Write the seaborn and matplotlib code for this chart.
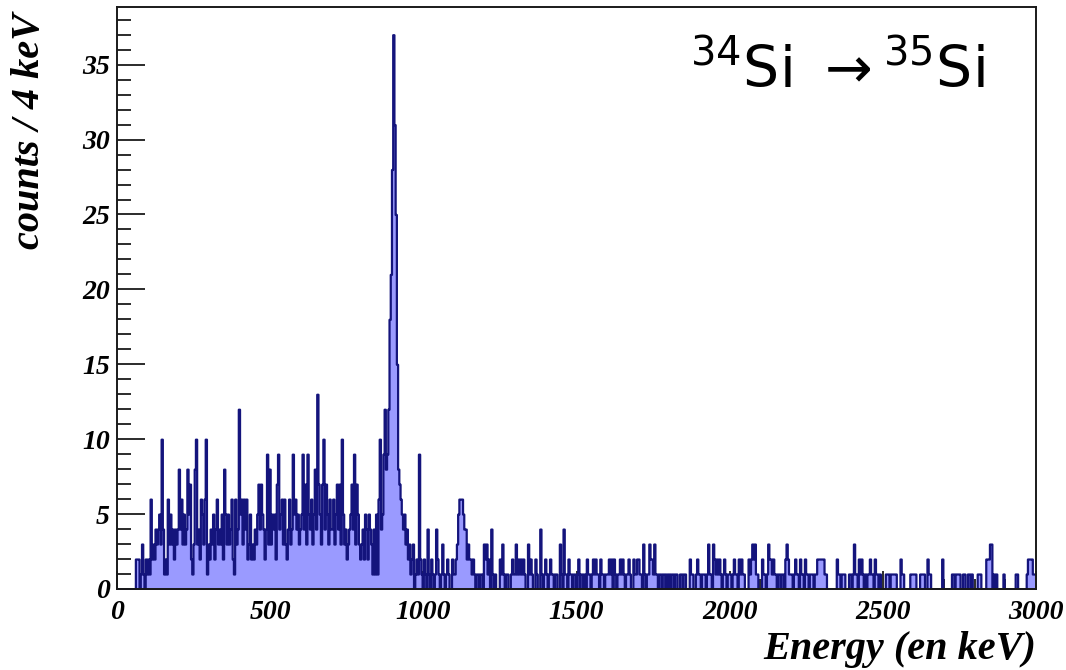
import numpy as np
import pandas as pd
import matplotlib
matplotlib.use("Agg")
import matplotlib.pyplot as plt
import seaborn as sns
from matplotlib.ticker import MultipleLocator

# Gamma-ray spectrum, counts per 4 keV bin, 0-3000 keV (25 bins per 100 keV row)
bin_width = 4
counts_0000 = [0, 0, 0, 0, 0, 0, 0, 0, 0, 0, 0, 0, 0, 0, 0, 2, 2, 2, 0, 1, 3, 1, 0, 2, 1]
counts_0100 = [2, 1, 6, 2, 3, 2, 4, 3, 4, 5, 3, 10, 4, 1, 2, 1, 6, 3, 5, 3, 4, 2, 4, 3, 4]
counts_0200 = [8, 4, 6, 3, 5, 3, 4, 8, 5, 7, 2, 1, 3, 8, 10, 3, 4, 2, 6, 5, 3, 6, 10, 1, 3]
counts_0300 = [2, 4, 3, 5, 2, 4, 6, 3, 4, 3, 5, 2, 8, 5, 3, 5, 3, 4, 6, 2, 1, 6, 3, 4, 12]
counts_0400 = [5, 6, 3, 6, 4, 6, 2, 3, 5, 2, 3, 2, 4, 3, 5, 7, 4, 7, 5, 4, 2, 4, 9, 3, 8]
counts_0500 = [3, 5, 4, 5, 2, 7, 9, 4, 5, 6, 3, 6, 3, 2, 4, 6, 3, 4, 9, 5, 6, 4, 5, 3, 4]
counts_0600 = [5, 9, 4, 7, 3, 9, 5, 4, 6, 3, 5, 8, 4, 13, 7, 5, 3, 7, 10, 4, 7, 5, 3, 6, 4]
counts_0700 = [4, 6, 3, 5, 7, 4, 7, 3, 10, 5, 3, 4, 2, 3, 4, 5, 7, 4, 9, 3, 7, 5, 3, 2, 3]
counts_0800 = [4, 2, 5, 4, 2, 5, 4, 3, 1, 4, 1, 5, 1, 6, 10, 4, 5, 9, 12, 8, 9, 12, 18, 21, 28]
counts_0900 = [37, 31, 25, 15, 8, 7, 6, 5, 4, 5, 3, 4, 2, 3, 1, 2, 3, 0, 1, 2, 1, 9, 2, 1, 0]
counts_1000 = [2, 1, 0, 4, 1, 0, 2, 1, 0, 1, 4, 2, 1, 0, 1, 3, 1, 0, 1, 2, 1, 0, 0, 2, 1]
counts_1100 = [1, 2, 3, 5, 6, 6, 6, 5, 4, 4, 2, 3, 2, 2, 1, 2, 1, 0, 1, 1, 0, 1, 1, 0, 3]
counts_1200 = [2, 3, 1, 2, 0, 4, 1, 0, 1, 0, 0, 0, 2, 1, 3, 1, 0, 1, 1, 0, 0, 1, 2, 1, 1]
counts_1300 = [3, 1, 2, 1, 2, 1, 2, 1, 0, 0, 3, 1, 2, 1, 0, 0, 2, 1, 0, 0, 4, 1, 0, 1, 2]
counts_1400 = [1, 0, 1, 2, 1, 1, 0, 1, 1, 0, 0, 3, 1, 0, 4, 1, 1, 0, 2, 1, 1, 0, 1, 1, 0]
counts_1500 = [1, 2, 0, 1, 1, 0, 1, 0, 2, 1, 1, 0, 1, 2, 1, 2, 1, 1, 0, 2, 1, 1, 0, 1, 1]
counts_1600 = [1, 2, 1, 2, 0, 2, 1, 0, 1, 1, 2, 1, 2, 1, 0, 1, 1, 2, 1, 0, 0, 2, 1, 1, 2]
counts_1700 = [2, 1, 1, 0, 3, 1, 0, 1, 1, 3, 2, 2, 1, 3, 1, 1, 0, 1, 1, 0, 1, 1, 0, 1, 0]
counts_1800 = [1, 0, 1, 1, 0, 1, 1, 0, 0, 1, 1, 0, 1, 1, 0, 0, 0, 2, 1, 1, 0, 0, 1, 2, 1]
counts_1900 = [1, 0, 1, 1, 1, 0, 1, 3, 1, 1, 0, 3, 2, 1, 2, 1, 2, 1, 0, 1, 2, 1, 0, 1, 1]
counts_2000 = [1, 0, 1, 2, 1, 1, 0, 2, 1, 2, 1, 1, 0, 0, 0, 2, 1, 2, 3, 2, 3, 1, 1, 0, 0]
counts_2100 = [0, 2, 1, 1, 0, 1, 3, 2, 2, 1, 2, 1, 1, 0, 1, 1, 0, 1, 1, 0, 2, 3, 2, 1, 1]
counts_2200 = [1, 0, 1, 2, 1, 1, 0, 2, 1, 1, 0, 2, 1, 1, 0, 1, 1, 1, 0, 1, 1, 2, 2, 2, 2]
counts_2300 = [2, 2, 1, 1, 0, 0, 0, 0, 0, 0, 0, 0, 2, 1, 1, 0, 1, 1, 1, 0, 0, 0, 1, 1, 0]
counts_2400 = [1, 3, 1, 1, 0, 2, 1, 2, 1, 0, 1, 0, 1, 1, 2, 1, 1, 0, 2, 1, 1, 0, 1, 0, 0]
counts_2500 = [0, 0, 1, 1, 1, 0, 1, 1, 1, 1, 1, 0, 0, 0, 2, 1, 1, 0, 0, 0, 0, 0, 1, 1, 1]
counts_2600 = [1, 1, 0, 0, 0, 1, 1, 1, 1, 0, 0, 2, 1, 1, 0, 0, 0, 0, 0, 0, 0, 0, 0, 2, 0]
counts_2700 = [0, 0, 0, 0, 0, 0, 1, 1, 0, 1, 1, 1, 1, 0, 0, 1, 1, 0, 0, 1, 1, 0, 1, 0, 0]
counts_2800 = [0, 0, 1, 1, 1, 0, 0, 0, 0, 2, 2, 2, 3, 3, 0, 1, 0, 1, 0, 0, 0, 0, 0, 1, 0]
counts_2900 = [0, 0, 0, 0, 0, 0, 0, 0, 1, 1, 0, 0, 0, 0, 0, 0, 0, 1, 2, 2, 2, 2, 1, 1, 1]

rows = [counts_0000, counts_0100, counts_0200, counts_0300, counts_0400, counts_0500,
        counts_0600, counts_0700, counts_0800, counts_0900, counts_1000, counts_1100,
        counts_1200, counts_1300, counts_1400, counts_1500, counts_1600, counts_1700,
        counts_1800, counts_1900, counts_2000, counts_2100, counts_2200, counts_2300,
        counts_2400, counts_2500, counts_2600, counts_2700, counts_2800, counts_2900]
counts = np.concatenate(rows).astype(float)
centers = np.arange(len(counts)) * bin_width + bin_width / 2
spectrum = pd.DataFrame({"energy": centers, "counts": counts})

sns.set_style("ticks")
plt.rcParams["font.family"] = ["Liberation Serif", "DejaVu Serif"]
plt.rcParams["text.color"] = "black"
plt.rcParams["axes.labelcolor"] = "black"
plt.rcParams["xtick.color"] = "black"
plt.rcParams["ytick.color"] = "black"

fig = plt.figure(figsize=(10.66, 6.70), dpi=100)
ax = fig.add_axes([117 / 1066, 81 / 670, 919 / 1066, 582 / 670])

sns.histplot(data=spectrum, x="energy", weights="counts",
             binwidth=bin_width, binrange=(0, 3000),
             element="step", fill=True, alpha=1.0,
             facecolor="#9a9aff", edgecolor="#14147c", linewidth=1.6, ax=ax)

ax.set_xlim(0, 3000)
ax.set_ylim(0, 38.85)

ax.xaxis.set_major_locator(MultipleLocator(500))
ax.xaxis.set_minor_locator(MultipleLocator(100))
ax.yaxis.set_major_locator(MultipleLocator(5))
ax.yaxis.set_minor_locator(MultipleLocator(1))
ax.tick_params(axis="both", which="both", direction="in", color="#1a1a1a",
               labelcolor="black", top=False, right=False, width=1.3)
ax.tick_params(axis="y", which="major", length=20, pad=5)
ax.tick_params(axis="y", which="minor", length=10)
ax.tick_params(axis="x", which="major", length=13, pad=8)
ax.tick_params(axis="x", which="minor", length=7)
for lab in ax.get_xticklabels() + ax.get_yticklabels():
    lab.set_fontsize(20)
    lab.set_fontweight("bold")
    lab.set_fontstyle("italic")
for side in ax.spines.values():
    side.set_visible(True)
    side.set_linewidth(1.4)
    side.set_color("#1a1a1a")

label_font = dict(fontsize=29, fontweight="bold", fontstyle="italic", color="black")
ax.set_xlabel("Energy (en keV)", **label_font)
ax.xaxis.label.set(ha="right", va="top")
ax.xaxis.set_label_coords(1.0, -0.073)
ax.set_ylabel("counts / 4 keV", **label_font)
ax.yaxis.label.set(rotation_mode="default", ha="center", va="top")
ax.yaxis.set_label_coords(-0.095, 0.99)

ax.text(0.623, 0.861, r"$^{34}$Si $\rightarrow$$^{35}$Si", transform=ax.transAxes,
        fontsize=41, family="DejaVu Sans", ha="left", va="baseline", color="black")

fig.savefig("out.png", dpi=100)
